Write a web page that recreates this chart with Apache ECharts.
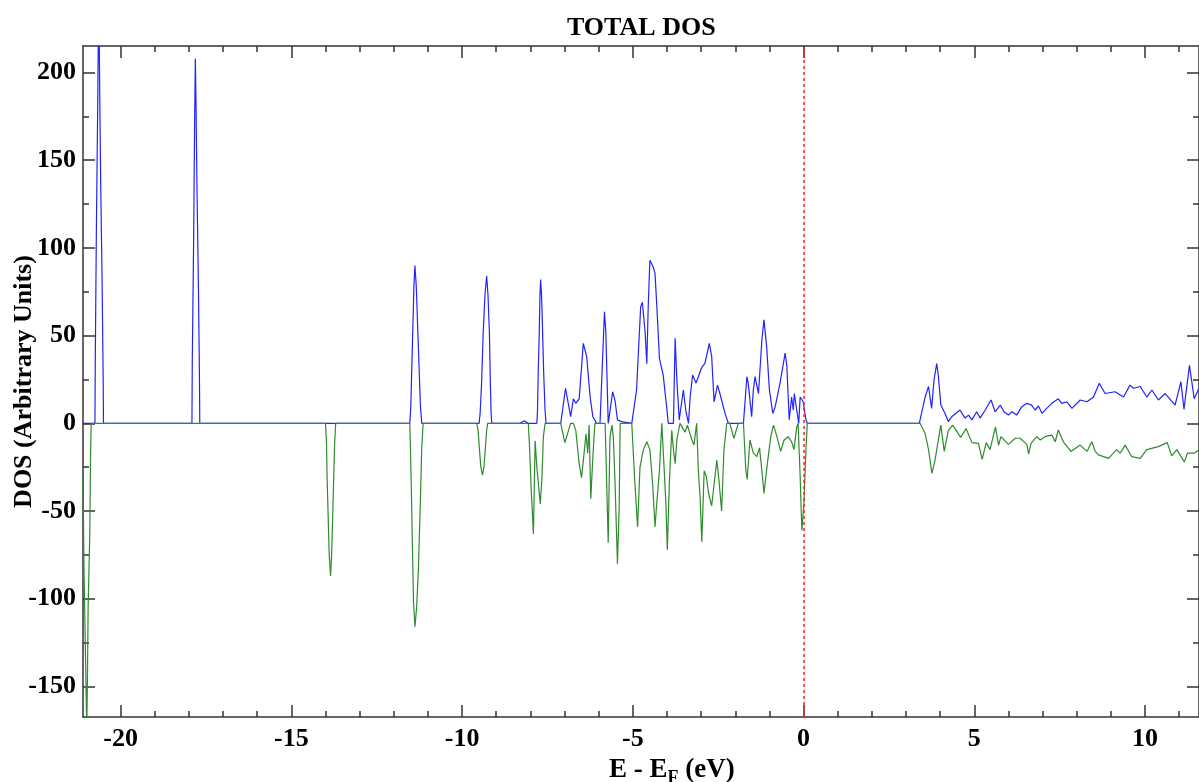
<!DOCTYPE html>
<html>
<head>
<meta charset="utf-8">
<script src="https://cdn.jsdelivr.net/npm/echarts@6/dist/echarts.min.js"></script>
<style>
  html, body { margin: 0; padding: 0; background: #fff; }
  #chart { width: 1199px; height: 782px; }
</style>
</head>
<body>
<div id="chart"></div>
<script>
// spin up DOS (blue), [E - Ef, DOS]
var dosUp = [
  [-21.10, 0], [-20.75, 0], [-20.74, 36], [-20.71, 107], [-20.67, 179], [-20.64, 250], [-20.61, 187], [-20.58, 134], [-20.54, 80], [-20.51, 27], [-20.50, 0],
  [-17.91, 0], [-17.90, 35], [-17.86, 105], [-17.83, 174], [-17.81, 208], [-17.79, 181], [-17.76, 131], [-17.72, 78], [-17.69, 26], [-17.68, 0],
  [-11.53, 0], [-11.50, 10], [-11.47, 33], [-11.44, 55], [-11.41, 78], [-11.38, 90], [-11.34, 78], [-11.30, 55], [-11.26, 33], [-11.22, 10], [-11.18, 0],
  [-9.50, 0], [-9.47, 6], [-9.43, 22], [-9.38, 52], [-9.33, 73], [-9.28, 84], [-9.24, 73], [-9.20, 52], [-9.17, 22], [-9.15, 6], [-9.13, 0],
  [-8.30, 0], [-8.18, 1.5], [-8.06, 0],
  [-7.81, 0], [-7.79, 7.6], [-7.77, 29], [-7.74, 51], [-7.72, 72], [-7.70, 82], [-7.67, 72], [-7.64, 51], [-7.61, 29], [-7.57, 7.6], [-7.54, 0],
  [-7.11, 0], [-6.97, 20], [-6.82, 3.8], [-6.74, 14], [-6.67, 11.4], [-6.57, 14], [-6.45, 45.6], [-6.35, 38], [-6.25, 15], [-6.17, 3.8], [-6.06, 0],
  [-5.96, 0], [-5.83, 63.6], [-5.79, 52], [-5.72, 0], [-5.65, 9.5], [-5.59, 18], [-5.52, 13], [-5.45, 2], [-5.33, 1], [-5.03, 0],
  [-4.98, 0], [-4.89, 19], [-4.77, 66.5], [-4.72, 69], [-4.64, 52], [-4.59, 34], [-4.55, 65.6], [-4.50, 93], [-4.40, 89], [-4.35, 85.5],
  [-4.30, 68], [-4.22, 37], [-4.11, 27.5], [-4.01, 9.5], [-3.96, 0], [-3.81, 0], [-3.76, 48.5], [-3.71, 24.7], [-3.64, 2], [-3.52, 19],
  [-3.45, 7.6], [-3.37, 0], [-3.32, 15], [-3.25, 27.5], [-3.15, 23], [-3.08, 26.6], [-2.98, 32], [-2.89, 34], [-2.76, 45.6], [-2.69, 38],
  [-2.62, 12.3], [-2.52, 21.8], [-2.45, 17], [-2.30, 5.7], [-2.20, 0], [-1.76, 0], [-1.66, 26.6], [-1.62, 22.8], [-1.52, 3.8], [-1.47, 19],
  [-1.42, 26.6], [-1.32, 17], [-1.22, 47.5], [-1.16, 59], [-1.08, 43.7], [-1.00, 19], [-0.90, 5.7], [-0.83, 9.5], [-0.69, 22.8], [-0.54, 40],
  [-0.49, 33], [-0.42, 2], [-0.35, 15], [-0.30, 7.6], [-0.27, 17], [-0.20, 7.6], [-0.14, 0], [-0.10, 15], [-0.01, 12.3], [0.07, 2], [0.11, 0],
  [3.39, 0], [3.56, 15], [3.66, 21], [3.75, 8.5], [3.82, 24.7], [3.90, 34], [3.95, 26.6], [4.02, 10.4], [4.14, 5.7], [4.24, 1], [4.34, 3.8],
  [4.58, 7.6], [4.73, 3], [4.83, 4.7], [4.93, 2], [5.07, 6.6], [5.17, 3], [5.32, 7.6], [5.49, 13.3], [5.61, 6.6], [5.76, 10.4], [5.87, 6.6],
  [6.00, 4.7], [6.10, 6.6], [6.24, 4.7], [6.39, 9.5], [6.54, 11.4], [6.68, 10.4], [6.78, 7.6], [6.88, 9.9], [6.98, 5.7], [7.12, 8.5],
  [7.27, 11.4], [7.46, 14], [7.56, 11.4], [7.71, 12.3], [7.86, 8.5], [8.10, 13.3], [8.30, 12.3], [8.49, 15], [8.66, 22.8], [8.83, 17],
  [9.12, 18], [9.37, 15], [9.56, 21.8], [9.66, 20], [9.86, 21], [10.05, 15], [10.20, 19], [10.39, 13.3], [10.59, 17], [10.88, 10.4],
  [11.05, 23.7], [11.14, 8], [11.30, 33], [11.44, 14], [11.58, 20]
];

// spin down DOS (green)
var dosDown = [
  [-21.10, -28], [-21.07, -85], [-21.02, -140], [-20.99, -175], [-20.97, -146], [-20.95, -105], [-20.90, -62], [-20.88, -20], [-20.86, 0],
  [-14.00, 0], [-13.97, -11], [-13.95, -32], [-13.92, -54], [-13.89, -75], [-13.85, -87], [-13.82, -75], [-13.79, -54], [-13.76, -32], [-13.73, -11], [-13.70, 0],
  [-11.53, 0], [-11.51, -15], [-11.48, -43], [-11.45, -73], [-11.42, -102], [-11.38, -116], [-11.33, -105], [-11.28, -84], [-11.22, -44], [-11.18, -14], [-11.14, 0],
  [-9.57, 0], [-9.53, -4], [-9.49, -15], [-9.45, -25], [-9.40, -29.5], [-9.36, -25], [-9.32, -15], [-9.28, -4], [-9.25, 0],
  [-8.06, 0], [-8.02, -15], [-7.97, -40], [-7.91, -63], [-7.86, -10], [-7.81, -25], [-7.71, -46], [-7.66, -31], [-7.62, -8], [-7.57, 0],
  [-7.11, 0], [-6.99, -11], [-6.82, 0], [-6.74, 0], [-6.67, -4], [-6.57, -23], [-6.50, -31], [-6.45, -32], [-6.37, -6], [-6.32, -17],
  [-6.28, -1], [-6.23, -43], [-6.17, -19], [-6.11, 0], [-5.81, 0], [-5.72, -68], [-5.67, -8], [-5.61, -1], [-5.57, -8], [-5.52, -34],
  [-5.45, -80], [-5.40, -49], [-5.37, 0], [-5.03, 0], [-4.94, -34], [-4.86, -59], [-4.79, -25], [-4.69, -15], [-4.59, -10.5], [-4.50, -15],
  [-4.42, -34], [-4.35, -59], [-4.30, -46], [-4.22, -27], [-4.15, 0], [-4.03, -46], [-3.99, -72], [-3.93, -34], [-3.86, -4], [-3.81, -15],
  [-3.76, -23], [-3.71, -9.5], [-3.62, 0], [-3.47, -5], [-3.40, -1], [-3.27, -9.5], [-3.21, -12.4], [-3.13, 0], [-3.08, -27], [-3.03, -42],
  [-2.98, -67.5], [-2.91, -27], [-2.85, -30], [-2.78, -40], [-2.69, -47], [-2.64, -48], [-2.54, -21], [-2.47, -34], [-2.40, -50], [-2.33, -15],
  [-2.25, 0], [-2.16, 0], [-2.04, -8.5], [-1.91, 0], [-1.76, 0], [-1.69, -27], [-1.65, -32], [-1.57, -9.5], [-1.47, -17], [-1.37, -19],
  [-1.29, -14], [-1.22, -27], [-1.16, -40], [-1.06, -23], [-0.96, -7.6], [-0.88, -1], [-0.78, -7.6], [-0.67, -16], [-0.57, -9.5], [-0.45, -7.6],
  [-0.35, -10.5], [-0.28, -15], [-0.20, -2], [-0.16, 0], [-0.10, -30], [-0.05, -61], [0.01, -46], [0.07, -15], [0.11, 0],
  [3.41, 0], [3.56, -5.7], [3.66, -15], [3.76, -28.5], [3.85, -21], [4.02, -1], [4.12, -16], [4.24, -4], [4.37, -1], [4.60, -8], [4.76, -3],
  [4.93, -11], [5.12, -11.4], [5.23, -20.5], [5.35, -11], [5.46, -15], [5.62, -2], [5.71, -12.5], [5.78, -7.6], [6.00, -12], [6.20, -8.5],
  [6.34, -8.5], [6.54, -12], [6.59, -17.5], [6.66, -11.4], [6.83, -7.6], [6.93, -9.5], [7.07, -7.6], [7.27, -6.7], [7.37, -10.5], [7.46, -3.8],
  [7.61, -10.5], [7.83, -16], [8.10, -12.4], [8.30, -16], [8.44, -10.5], [8.54, -16], [8.64, -18], [8.93, -20], [9.17, -15], [9.27, -17],
  [9.42, -12.4], [9.61, -19], [9.86, -20], [10.05, -15], [10.39, -13.3], [10.65, -11], [10.78, -18.5], [10.93, -15], [11.15, -22], [11.24, -17],
  [11.44, -17], [11.58, -15]
];

var xMajor = [-20, -15, -10, -5, 0, 5, 10];
var xMinor = [-19, -18, -17, -16, -14, -13, -12, -11, -9, -8, -7, -6, -4, -3, -2, -1, 1, 2, 3, 4, 6, 7, 8, 9, 11];
var yMajor = [-150, -100, -50, 0, 50, 100, 150, 200];
var yMinor = [-125, -75, -25, 25, 75, 125, 175];

var xMin = -21.1, xMax = 11.58;
var yMin = -167.4, yMax = 215.1;

var font = 'Liberation Serif, Times New Roman, serif';
var axisCol = '#333';

function xAx(pos, ticks, len, showLine, showLabel) {
  return {
    type: 'value', position: pos, min: xMin, max: xMax,
    axisLine: { show: showLine, onZero: false, lineStyle: { color: axisCol, width: 1.5 } },
    axisTick: { show: true, inside: true, length: len, customValues: ticks, lineStyle: { color: axisCol, width: 1.5 } },
    axisLabel: showLabel ? { customValues: ticks, margin: 9, color: '#000', fontFamily: font, fontWeight: 'bold', fontSize: 26 } : { show: false },
    splitLine: { show: false }
  };
}
function yAx(pos, ticks, len, showLine, showLabel) {
  return {
    type: 'value', position: pos, min: yMin, max: yMax,
    axisLine: { show: showLine, onZero: false, lineStyle: { color: axisCol, width: 1.5 } },
    axisTick: { show: true, inside: true, length: len, customValues: ticks, lineStyle: { color: axisCol, width: 1.5 } },
    axisLabel: showLabel ? { customValues: ticks, margin: 7, color: '#000', fontFamily: font, fontWeight: 'bold', fontSize: 26 } : { show: false },
    splitLine: { show: false }
  };
}

var yMain = yAx('left', yMajor, 12, true, true);
yMain.name = 'DOS (Arbitrary Units)';
yMain.nameLocation = 'middle';
yMain.nameGap = 46;
yMain.nameMoveOverlap = false;
yMain.nameTextStyle = { color: '#000', fontFamily: font, fontWeight: 'bold', fontSize: 26 };

var chart = echarts.init(document.getElementById('chart'));
chart.setOption({
  backgroundColor: '#fff',
  animation: false,
  title: [
    { text: 'TOTAL DOS', left: 562, top: 10, textStyle: { color: '#000', fontFamily: font, fontWeight: 'bold', fontSize: 26 } },
    {
      text: '{m|E - E}{s|F}{m| (eV)}', left: 604, top: 748,
      textStyle: { rich: {
        m: { color: '#000', fontFamily: font, fontWeight: 'bold', fontSize: 27 },
        s: { color: '#000', fontFamily: font, fontWeight: 'bold', fontSize: 18, padding: [16, 0, 0, 0] }
      } }
    }
  ],
  grid: { left: 83, right: 0, top: 46, bottom: 65, containLabel: false, outerBoundsMode: 'none' },
  xAxis: [
    xAx('bottom', xMajor, 12, true, true),
    xAx('bottom', xMinor, 6, false, false),
    xAx('top', xMajor, 12, true, false),
    xAx('top', xMinor, 6, false, false)
  ],
  yAxis: [
    yMain,
    yAx('left', yMinor, 6, false, false),
    yAx('right', yMajor, 12, true, false),
    yAx('right', yMinor, 6, false, false)
  ],
  series: [
    {
      name: 'up', type: 'line', data: dosUp, xAxisIndex: 0, yAxisIndex: 0,
      showSymbol: false, symbol: 'none', clip: true,
      lineStyle: { color: '#2222ff', width: 1.2 }
    },
    {
      name: 'down', type: 'line', data: dosDown, xAxisIndex: 0, yAxisIndex: 0,
      showSymbol: false, symbol: 'none', clip: true,
      lineStyle: { color: '#2e8b2e', width: 1.2 },
      markLine: {
        silent: true, symbol: 'none', label: { show: false },
        lineStyle: { color: '#ff2020', type: [3, 3], width: 1.5 },
        data: [{ xAxis: 0 }]
      }
    }
  ]
});
</script>
</body>
</html>
